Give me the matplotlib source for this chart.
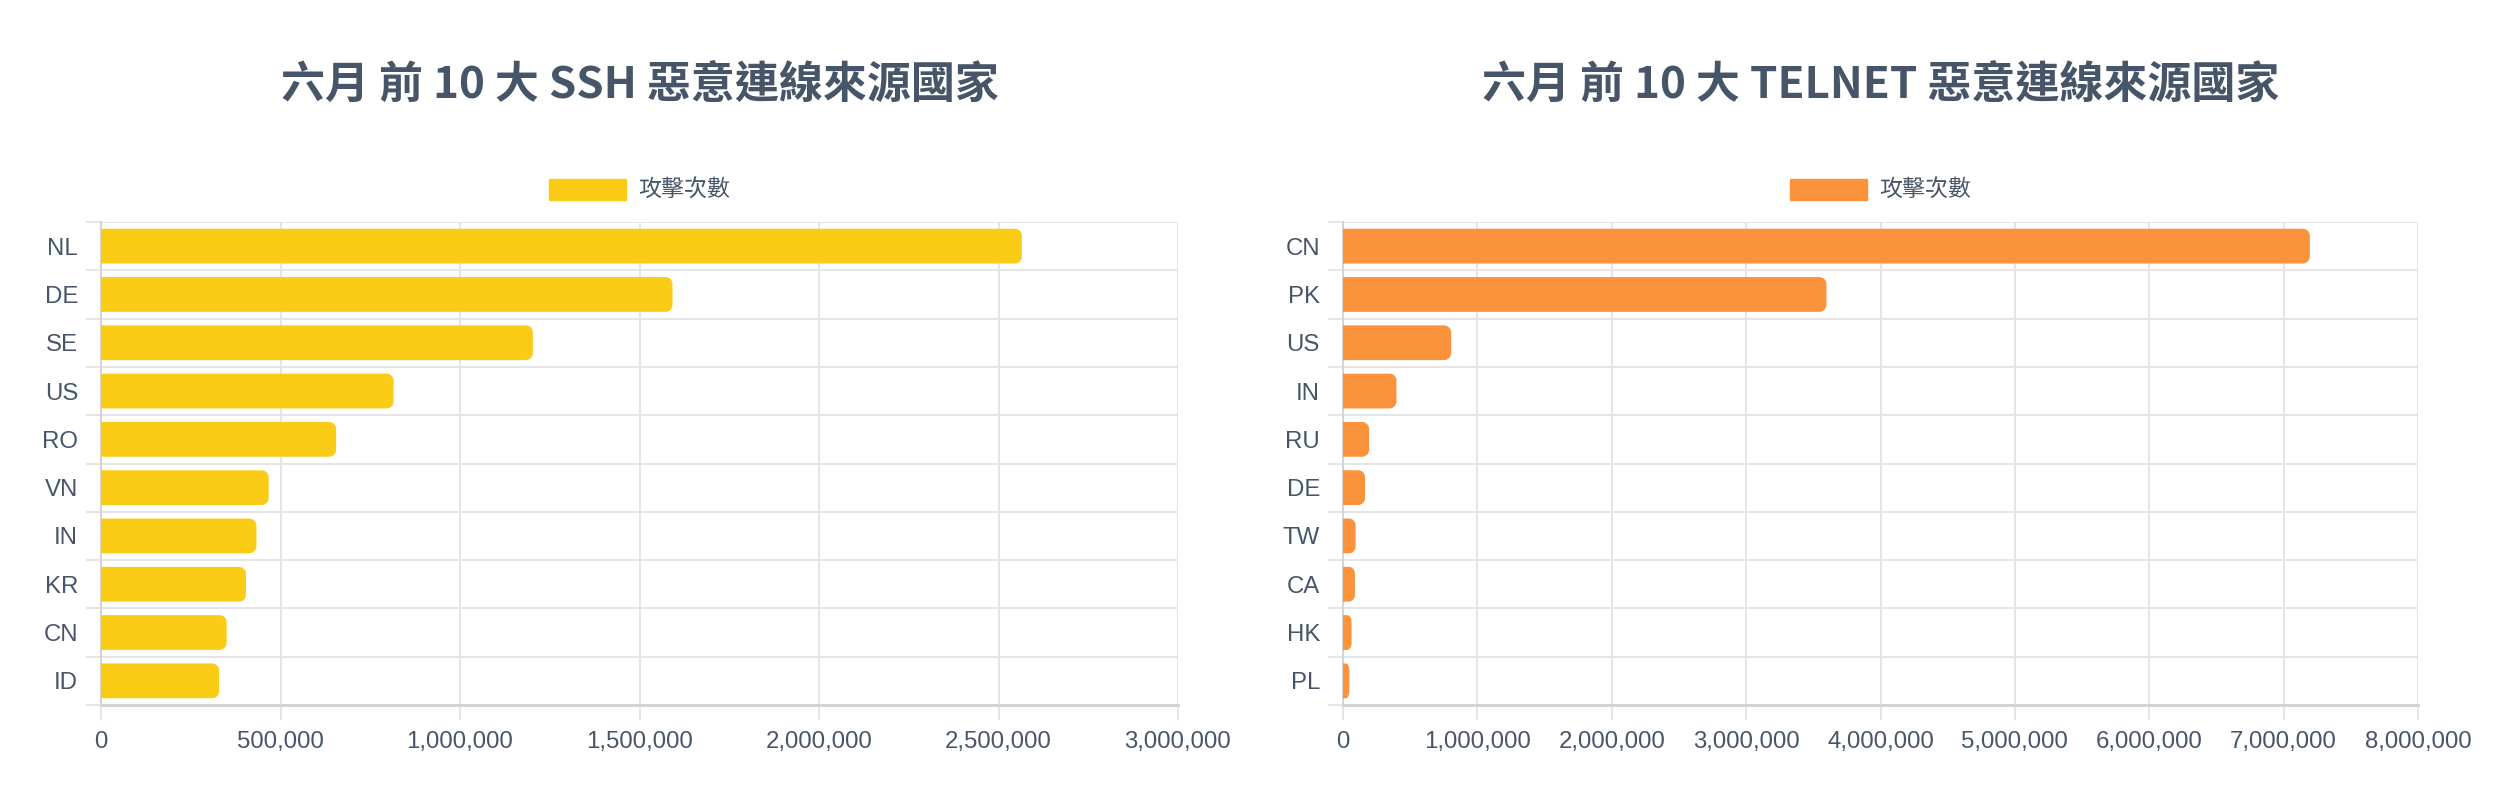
import matplotlib
matplotlib.use("Agg")
import matplotlib.pyplot as plt
from matplotlib.patches import PathPatch, Patch
from matplotlib.path import Path
from matplotlib.ticker import FuncFormatter, MultipleLocator, FixedLocator

# ---------------- data ----------------
ssh_countries = ["NL", "DE", "SE", "US", "RO", "VN", "IN", "KR", "CN", "ID"]
ssh_counts = [2565000, 1592000, 1203000, 815000, 655000, 467000, 433000, 404000, 350000, 329000]

telnet_countries = ["CN", "PK", "US", "IN", "RU", "DE", "TW", "CA", "HK", "PL"]
telnet_counts = [7195000, 3598000, 805000, 398000, 194000, 164000, 94000, 89000, 64000, 47000]

ssh_title = "六月 前 10 大 SSH 惡意連線來源國家"
telnet_title = "六月 前 10 大 TELNET 惡意連線來源國家"
series_label = "攻擊次數"

ssh_xmax, ssh_step = 3000000, 500000
telnet_xmax, telnet_step = 8000000, 1000000

# ---------------- style ----------------
W, H, DPI = 2520, 800, 100
PX = 72.0 / DPI  # points per pixel
TEXT = "#475569"
GRID = "#e5e5e5"
BORDER = "#d4d4d4"
YELLOW = "#FACC15"
ORANGE = "#FB923C"
CJK = ["Noto Sans CJK TC", "DejaVu Sans"]
LAT = ["Liberation Sans", "DejaVu Sans"]

fig = plt.figure(figsize=(W / DPI, H / DPI), dpi=DPI)
fig.patch.set_facecolor("white")

plot_top, plot_bot = 222, 705


def rounded_bar(ax, x0, y0, w, h, r_px, color):
    # rounded at the value end only (like chart.js borderSkipped start)
    bbox = ax.get_window_extent()
    xr = ax.get_xlim()
    yr = ax.get_ylim()
    sx = abs(xr[1] - xr[0]) / bbox.width
    sy = abs(yr[1] - yr[0]) / bbox.height
    rx = min(r_px * sx, w / 2)
    ry = min(r_px * sy, h / 2)
    x1 = x0 + w
    k = 0.5523
    verts = [
        (x0, y0),
        (x1 - rx, y0),
        (x1 - rx + k * rx, y0), (x1, y0 + ry - k * ry), (x1, y0 + ry),
        (x1, y0 + h - ry),
        (x1, y0 + h - ry + k * ry), (x1 - rx + k * rx, y0 + h), (x1 - rx, y0 + h),
        (x0, y0 + h),
        (x0, y0),
    ]
    codes = [Path.MOVETO, Path.LINETO,
             Path.CURVE4, Path.CURVE4, Path.CURVE4,
             Path.LINETO,
             Path.CURVE4, Path.CURVE4, Path.CURVE4,
             Path.LINETO, Path.CLOSEPOLY]
    p = PathPatch(Path(verts, codes), facecolor=color, edgecolor="none", zorder=3)
    ax.add_patch(p)


def make_chart(left_px, right_px, cats, vals, color, title, xmax, step):
    ax = fig.add_axes([left_px / W, (H - plot_bot) / H,
                       (right_px - left_px) / W, (plot_bot - plot_top) / H])
    n = len(cats)
    pos = list(range(n))
    ax.set_xlim(0, xmax)
    ax.set_ylim(n - 0.5, -0.5)
    bars = ax.barh(pos, vals, height=0.72, color=color, zorder=3)
    for b in bars:
        b.set_visible(False)
        rounded_bar(ax, b.get_x(), b.get_y(), b.get_width(), b.get_height(), 7, color)

    # y axis: labels at centres, grid/ticks at boundaries
    ax.yaxis.set_major_locator(FixedLocator(pos))
    ax.set_yticklabels(cats)
    ax.yaxis.set_minor_locator(FixedLocator([i - 0.5 for i in range(n + 1)]))
    ax.tick_params(axis="y", which="major", length=0, pad=23 * PX,
                   labelsize=24 * PX, labelcolor=TEXT)
    ax.tick_params(axis="y", which="minor", length=15 * PX, width=2 * PX, color=GRID)
    for lab in ax.get_yticklabels():
        lab.set_family(LAT)

    ax.xaxis.set_major_locator(MultipleLocator(step))
    ax.xaxis.set_major_formatter(FuncFormatter(lambda v, p: f"{int(v):,}"))
    ax.tick_params(axis="x", which="major", length=15 * PX, width=2 * PX, color=GRID,
                   pad=11 * PX, labelsize=24 * PX, labelcolor=TEXT)
    for lab in ax.get_xticklabels():
        lab.set_family(LAT)

    ax.grid(True, axis="x", which="major", color=GRID, linewidth=2 * PX, zorder=0)
    ax.grid(True, axis="y", which="minor", color=GRID, linewidth=2 * PX, zorder=0)
    ax.grid(False, axis="y", which="major")
    ax.set_axisbelow(True)

    for s in ["top", "right"]:
        ax.spines[s].set_visible(False)
    ax.spines["left"].set_color(BORDER)
    ax.spines["left"].set_linewidth(2 * PX)
    ax.spines["bottom"].set_color(BORDER)
    ax.spines["bottom"].set_linewidth(3 * PX)

    cx = (left_px + right_px) / 2 / W
    fig.text(cx, 1 - 85 / H, title, ha="center", va="center", fontsize=44 * PX,
             fontweight="bold", color=TEXT, family=CJK)

    leg = fig.legend(handles=[Patch(facecolor=color, edgecolor=color, label=series_label)],
                     loc="center", bbox_to_anchor=(cx, 1 - 190.5 / H),
                     bbox_transform=fig.transFigure, frameon=False,
                     prop={"family": CJK, "size": 23 * PX},
                     handlelength=77 / 23, handleheight=23 / 23,
                     handletextpad=12 / 23, borderpad=0)
    for t in leg.get_texts():
        t.set_color(TEXT)
    return ax


make_chart(101, 1178, ssh_countries, ssh_counts, YELLOW, ssh_title, ssh_xmax, ssh_step)
make_chart(1343, 2418, telnet_countries, telnet_counts, ORANGE, telnet_title, telnet_xmax, telnet_step)

fig.savefig("out.png", dpi=DPI, facecolor="white")
